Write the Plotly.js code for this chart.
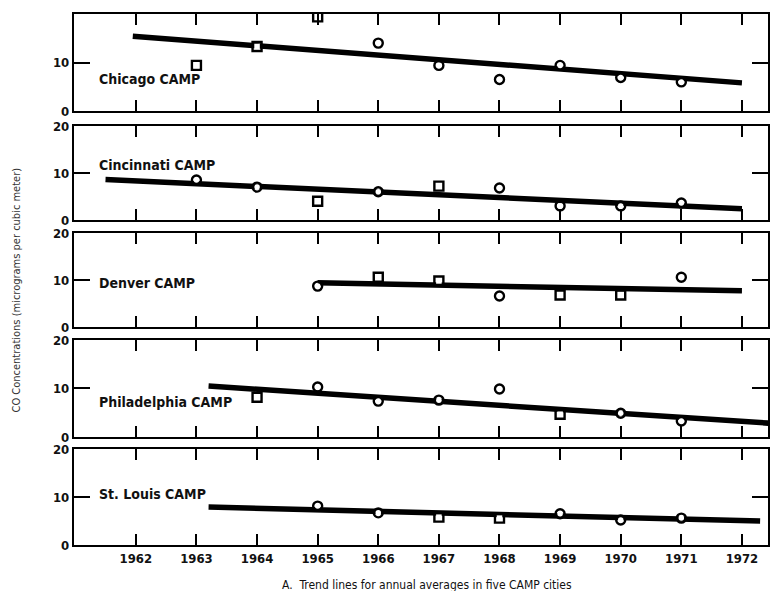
<!DOCTYPE html>
<html><head><meta charset="utf-8">
<script src="https://cdn.plot.ly/plotly-3.0.1.min.js"></script>
<style>html,body{margin:0;padding:0;background:#fff}#chart{width:770px;height:591px}</style>
</head><body><div id="chart"></div>
<script>
// ---- data ----
const cities = ["Chicago CAMP", "Cincinnati CAMP", "Denver CAMP", "Philadelphia CAMP", "St. Louis CAMP"];
const tickYears = [1962, 1963, 1964, 1965, 1966, 1967, 1968, 1969, 1970, 1971, 1972];

const chicagoYears   = [1963, 1964, 1965, 1966, 1967, 1968, 1969, 1970, 1971];
const chicagoValues  = [9.4, 13.3, 19.4, 14.0, 9.4, 6.5, 9.4, 6.9, 6.0];
const chicagoSymbols = ["square", "square", "square", "circle", "circle", "circle", "circle", "circle", "circle"];
const chicagoTrendX  = [1961.95, 1972];
const chicagoTrendY  = [15.4, 5.8];

const cincinnatiYears   = [1963, 1964, 1965, 1966, 1967, 1968, 1969, 1970, 1971];
const cincinnatiValues  = [8.5, 7.0, 4.0, 6.0, 7.2, 6.8, 3.0, 3.0, 3.6];
const cincinnatiSymbols = ["circle", "circle", "square", "circle", "square", "circle", "circle", "circle", "circle"];
const cincinnatiTrendX  = [1961.5, 1972];
const cincinnatiTrendY  = [8.6, 2.4];

const denverYears   = [1965, 1966, 1967, 1968, 1969, 1970, 1971];
const denverValues  = [8.7, 10.6, 9.8, 6.6, 6.8, 6.8, 10.6];
const denverSymbols = ["circle", "square", "square", "circle", "square", "square", "circle"];
const denverTrendX  = [1965, 1972];
const denverTrendY  = [9.4, 7.7];

const philadelphiaYears   = [1964, 1965, 1966, 1967, 1968, 1969, 1970, 1971];
const philadelphiaValues  = [8.2, 10.3, 7.4, 7.6, 9.9, 4.7, 4.9, 3.3];
const philadelphiaSymbols = ["square", "circle", "circle", "circle", "circle", "square", "circle", "circle"];
const philadelphiaTrendX  = [1963.2, 1972.5];
const philadelphiaTrendY  = [10.5, 2.8];

const stlouisYears   = [1965, 1966, 1967, 1968, 1969, 1970, 1971];
const stlouisValues  = [8.1, 6.7, 5.8, 5.6, 6.5, 5.2, 5.6];
const stlouisSymbols = ["circle", "circle", "square", "square", "circle", "circle", "circle"];
const stlouisTrendX  = [1963.2, 1972.3];
const stlouisTrendY  = [7.9, 5.0];

const labelPos = [[1961.36, 6.5], [1961.36, 11.7], [1961.36, 9.4], [1961.36, 7.2], [1961.36, 10.6]];

// ---- build ----
const series = [
  [chicagoYears, chicagoValues, chicagoSymbols, chicagoTrendX, chicagoTrendY],
  [cincinnatiYears, cincinnatiValues, cincinnatiSymbols, cincinnatiTrendX, cincinnatiTrendY],
  [denverYears, denverValues, denverSymbols, denverTrendX, denverTrendY],
  [philadelphiaYears, philadelphiaValues, philadelphiaSymbols, philadelphiaTrendX, philadelphiaTrendY],
  [stlouisYears, stlouisValues, stlouisSymbols, stlouisTrendX, stlouisTrendY]
];
const domains = [[0.8173, 1.0], [0.6121, 0.7891], [0.4105, 0.5876], [0.2034, 0.3861], [0.0, 0.1808]];
const FONT = "'Liberation Sans Narrow', 'DejaVu Sans Condensed', Arial, sans-serif";

const data = [];
const layout = {
  width: 770, height: 591,
  margin: {l: 74, r: 2, t: 14, b: 46},
  paper_bgcolor: "#fff", plot_bgcolor: "#fff",
  showlegend: false,
  font: {family: FONT, color: "#111", size: 13},
  annotations: []
};

series.forEach((s, i) => {
  const n = i + 1;
  const xa = n === 1 ? "x" : "x" + n;
  const ya = n === 1 ? "y" : "y" + n;
  data.push({x: s[3], y: s[4], xaxis: xa, yaxis: ya, mode: "lines",
    line: {color: "#000", width: 5.5}, hoverinfo: "skip"});
  data.push({x: s[0], y: s[1], xaxis: xa, yaxis: ya, mode: "markers",
    marker: {symbol: s[2].map(t => t + "-open"), size: 9, color: "#000",
      line: {color: "#000", width: 2.4}},
    hoverinfo: "skip"});
  data.push({x: s[0], y: s[1], xaxis: xa, yaxis: ya, mode: "markers",
    marker: {symbol: s[2], size: 5.5, color: "#fff", line: {width: 0}},
    hoverinfo: "skip"});
  const isBottom = n === 5;
  layout["xaxis" + (n === 1 ? "" : n)] = {
    domain: [0, 1], anchor: ya, range: [1960.98, 1972.43],
    tickvals: tickYears, ticktext: tickYears.map(String),
    showticklabels: isBottom,
    ticks: "inside", ticklen: 11, tickwidth: 2, tickcolor: "#000",
    showline: true, linecolor: "#000", linewidth: 2.2, mirror: "ticks",
    showgrid: false, zeroline: false,
    tickfont: {family: FONT, size: 13, color: "#111", weight: "bold"},
    matches: n === 1 ? undefined : "x"
  };
  layout["yaxis" + (n === 1 ? "" : n)] = {
    domain: domains[i], anchor: xa, range: [0, 20],
    tickvals: n === 1 ? [0, 10] : [0, 10, 20],
    ticks: "inside", ticklen: 16, tickwidth: 2, tickcolor: "#000",
    showline: true, linecolor: "#000", linewidth: 2.2, mirror: "ticks",
    showgrid: false, zeroline: false,
    tickfont: {family: FONT, size: 13, color: "#111", weight: "bold"}
  };
  layout.annotations.push({
    xref: xa, yref: ya, x: labelPos[i][0], y: labelPos[i][1],
    text: cities[i], showarrow: false, xanchor: "left", yanchor: "middle",
    font: {family: FONT, size: 14, color: "#111", weight: "bold"}
  });
});

layout.annotations.push({
  xref: "paper", yref: "paper", x: -0.083, y: 0.48,
  text: "CO Concentrations (micrograms per cubic meter)", textangle: -90,
  showarrow: false, xanchor: "center", yanchor: "middle",
  font: {family: FONT, size: 11, color: "#333"}
});
layout.annotations.push({
  xref: "paper", yref: "paper", x: 0.508, y: -0.058,
  text: "A.  Trend lines for annual averages in five CAMP cities",
  showarrow: false, xanchor: "center", yanchor: "top",
  font: {family: FONT, size: 12, color: "#111"}
});

Plotly.newPlot("chart", data, layout, {staticPlot: true, displayModeBar: false});
</script></body></html>
